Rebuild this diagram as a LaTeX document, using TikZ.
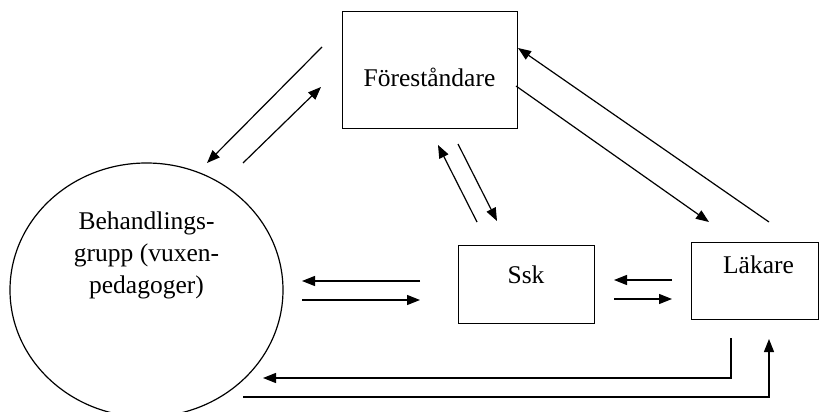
\documentclass[tikz,border=0pt]{standalone}
\usepackage{fontspec}
\setmainfont{Liberation Serif}
\usetikzlibrary{shapes.geometric,arrows.meta}

\begin{document}
\begin{tikzpicture}
    [x=1pt, y=-1pt,
    BoxNode/.style={rectangle, draw=black, line width=1pt, inner sep=0pt},
    GroupNode/.style={ellipse, draw=black, line width=1.2pt, inner sep=0pt, minimum width=273pt, minimum height=254pt},
    LabelText/.style={font=\fontsize{25.5}{32}\selectfont, align=center},
    Arr/.style={-{Triangle[length=13pt, width=10pt]}, line width=1.2pt}]
    \useasboundingbox (0,0) rectangle (819,412);
    \node[GroupNode, label={[LabelText, yshift=35pt]center:Behandlings-\\grupp (vuxen-\\pedagoger)}] (beh) at (146.5,290){};
    \node[BoxNode, minimum width=175pt, minimum height=116pt, label={[LabelText, yshift=-7pt]center:Föreståndare}] (forest) at (429.5,70){};
    \node[BoxNode, minimum width=136pt, minimum height=78pt, label={[LabelText, yshift=9pt]center:Ssk}] (ssk) at (526,284){};
    \node[BoxNode, minimum width=127pt, minimum height=77pt, label={[LabelText, xshift=4pt, yshift=16pt]center:Läkare}] (lak) at (754.5,280.5){};
    % free ends of the arrows
    \coordinate (fb-s) at (322,47);  \coordinate (fb-e) at (207,163);
    \coordinate (bf-s) at (243,163); \coordinate (bf-e) at (321,87);
    \coordinate (fs-s) at (458,144); \coordinate (fs-e) at (497,221);
    \coordinate (sf-s) at (477,222); \coordinate (sf-e) at (438,145);
    \coordinate (fl-s) at (516,86);  \coordinate (fl-e) at (709,222);
    \coordinate (lf-s) at (769,222); \coordinate (lf-e) at (518,48);
    \coordinate (sb-s) at (420,281); \coordinate (sb-e) at (302,281);
    \coordinate (bs-s) at (302,300); \coordinate (bs-e) at (420,300);
    \coordinate (ls-s) at (672,280); \coordinate (ls-e) at (614,280);
    \coordinate (sl-s) at (614,299); \coordinate (sl-e) at (672,299);
    \coordinate (lb-s) at (731,338); \coordinate (lb-e) at (263,378);
    \coordinate (bl-s) at (243,397); \coordinate (bl-e) at (769,339);
    \draw[Arr] (fb-s) -- (fb-e);
    \draw[Arr] (bf-s) -- (bf-e);
    \draw[Arr] (fs-s) -- (fs-e);
    \draw[Arr] (sf-s) -- (sf-e);
    \draw[Arr] (fl-s) -- (fl-e);
    \draw[Arr] (lf-s) -- (lf-e);
    \draw[Arr] (sb-s) -- (sb-e);
    \draw[Arr] (bs-s) -- (bs-e);
    \draw[Arr] (ls-s) -- (ls-e);
    \draw[Arr] (sl-s) -- (sl-e);
    \draw[Arr] (lb-s) |- (lb-e);
    \draw[Arr] (bl-s) -| (bl-e);
\end{tikzpicture}
\end{document}
